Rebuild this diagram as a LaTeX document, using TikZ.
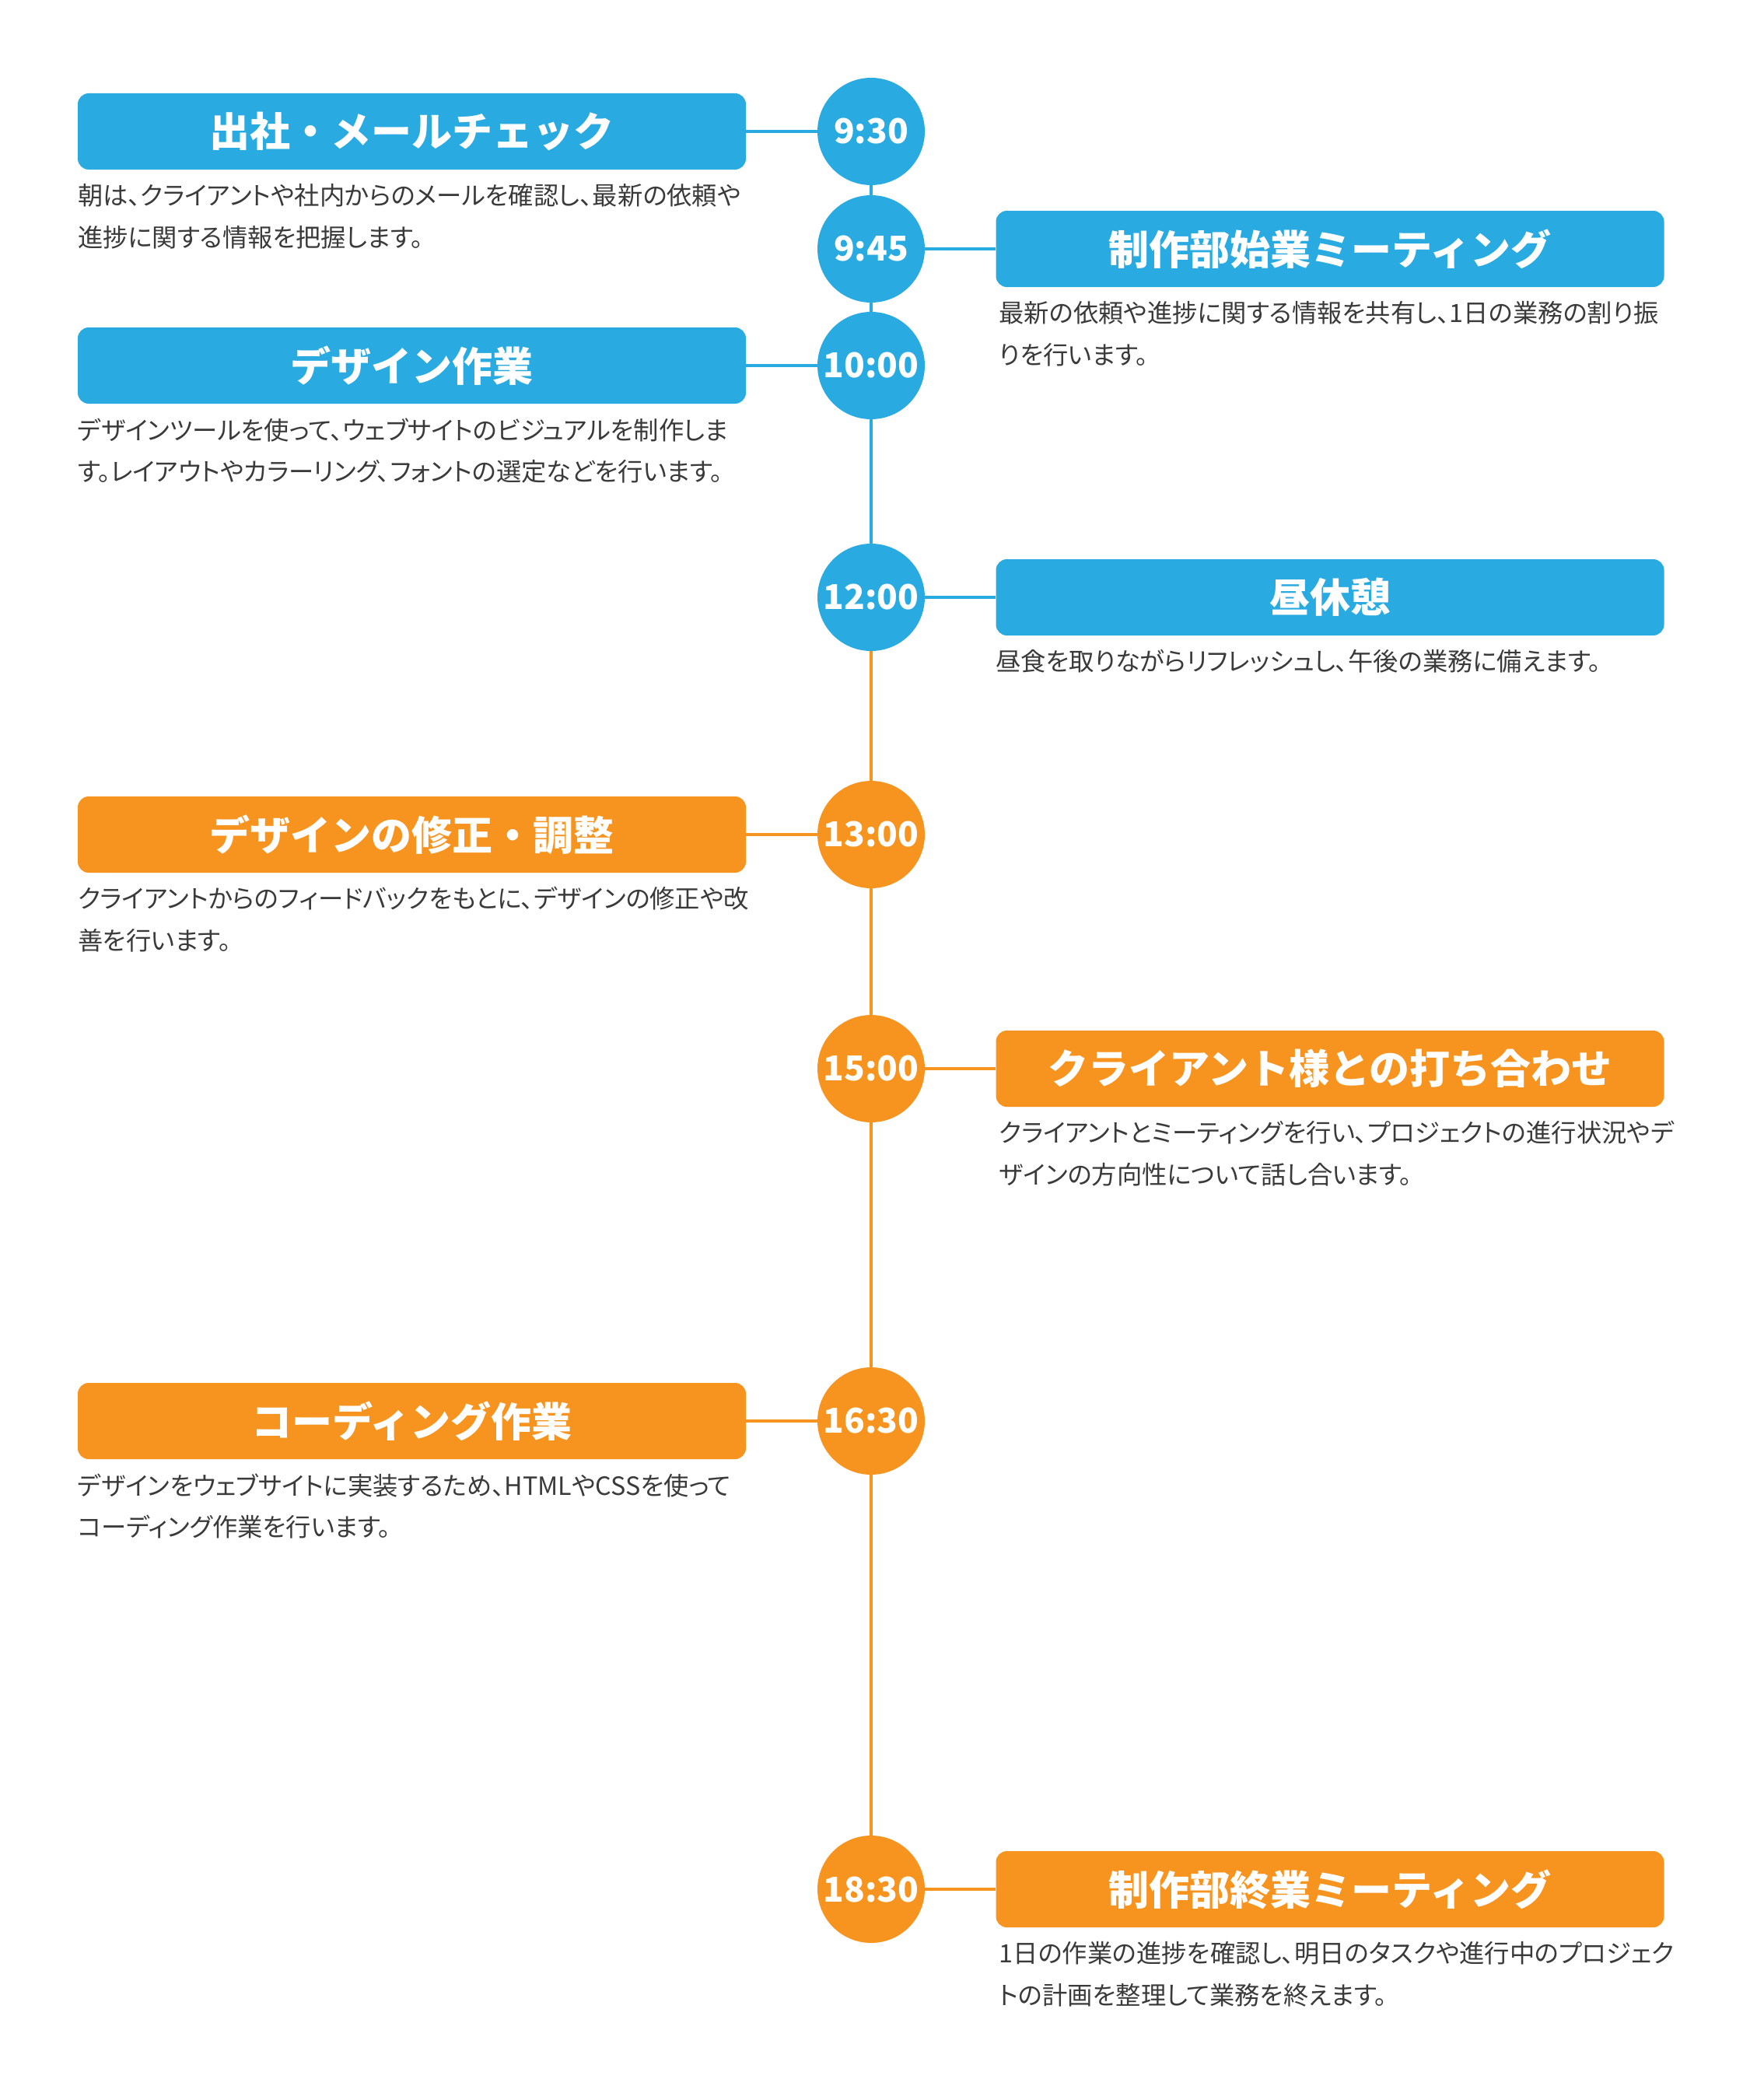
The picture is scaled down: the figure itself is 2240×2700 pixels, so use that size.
\documentclass[tikz,border=0pt]{standalone}
\usepackage{fontspec}
\setmainfont{Noto Sans CJK JP}
\newfontfamily\notefont[RawFeature=+palt]{Noto Sans CJK JP}
\definecolor{skyblue}{HTML}{29AAE1}
\definecolor{sunorange}{HTML}{F7941F}
\definecolor{bodygray}{HTML}{3A3A3A}
\begin{document}
\begin{tikzpicture}[x=1pt,y=-1pt,
    timedot/.style={circle,fill=#1,minimum size=138pt,inner sep=0pt,text=white,font=\fontsize{44}{44}\selectfont\bfseries},
    titlebox/.style={rounded corners=14pt,fill=#1,minimum width=859pt,minimum height=98pt,inner sep=0pt,text=white,font=\fontsize{52}{52}\selectfont\bfseries},
    note/.style={anchor=north west,inner sep=0pt,align=left,text=bodygray,font=\notefont\fontsize{32.3}{53.5}\selectfont},
    link/.style={draw=#1,line width=4.5pt}]
    \useasboundingbox (0,0) rectangle (2240,2700);
    % morning (blue)
    \node[timedot=skyblue] (t0930) at (1120,169) {9:30};
    \node[titlebox=skyblue] (b0930) at (529.5,169) {出社・メールチェック};
    \node[note] (d0930) at ([yshift=-18pt]b0930.south west) {朝は、クライアントや社内からのメールを確認し、最新の依頼や\\進捗に関する情報を把握します。};
    \node[timedot=skyblue] (t0945) at (1120,320) {9:45};
    \node[titlebox=skyblue] (b0945) at (1710,320) {制作部始業ミーティング};
    \node[note] (d0945) at ([xshift=4pt,yshift=-18pt]b0945.south west) {最新の依頼や進捗に関する情報を共有し、1日の業務の割り振\\りを行います。};
    \node[timedot=skyblue] (t1000) at (1120,470) {10:00};
    \node[titlebox=skyblue] (b1000) at (529.5,470) {デザイン作業};
    \node[note] (d1000) at ([yshift=-18pt]b1000.south west) {デザインツールを使って、ウェブサイトのビジュアルを制作しま\\す。レイアウトやカラーリング、フォントの選定などを行います。};
    \node[timedot=skyblue] (t1200) at (1120,768) {12:00};
    \node[titlebox=skyblue] (b1200) at (1710,768) {昼休憩};
    \node[note] (d1200) at ([yshift=-18pt]b1200.south west) {昼食を取りながらリフレッシュし、午後の業務に備えます。};
    % afternoon (orange)
    \node[timedot=sunorange] (t1300) at (1120,1073) {13:00};
    \node[titlebox=sunorange] (b1300) at (529.5,1073) {デザインの修正・調整};
    \node[note] (d1300) at ([yshift=-18pt]b1300.south west) {クライアントからのフィードバックをもとに、デザインの修正や改\\善を行います。};
    \node[timedot=sunorange] (t1500) at (1120,1374) {15:00};
    \node[titlebox=sunorange] (b1500) at (1710,1374) {クライアント様との打ち合わせ};
    \node[note] (d1500) at ([xshift=4pt,yshift=-18pt]b1500.south west) {クライアントとミーティングを行い、プロジェクトの進行状況やデ\\ザインの方向性について話し合います。};
    \node[timedot=sunorange] (t1630) at (1120,1827) {16:30};
    \node[titlebox=sunorange] (b1630) at (529.5,1827) {コーディング作業};
    \node[note] (d1630) at ([yshift=-18pt]b1630.south west) {デザインをウェブサイトに実装するため、HTMLやCSSを使って\\コーディング作業を行います。};
    \node[timedot=sunorange] (t1830) at (1120,2429) {18:30};
    \node[titlebox=sunorange] (b1830) at (1710,2429) {制作部終業ミーティング};
    \node[note] (d1830) at ([xshift=4pt,yshift=-18pt]b1830.south west) {1日の作業の進捗を確認し、明日のタスクや進行中のプロジェク\\トの計画を整理して業務を終えます。};
    % timeline
    \draw[link=skyblue] (t0930) -- (t0945);
    \draw[link=skyblue] (t0945) -- (t1000);
    \draw[link=skyblue] (t1000) -- (t1200);
    \draw[link=sunorange] (t1200) -- (t1300);
    \draw[link=sunorange] (t1300) -- (t1500);
    \draw[link=sunorange] (t1500) -- (t1630);
    \draw[link=sunorange] (t1630) -- (t1830);
    % connectors to boxes
    \draw[link=skyblue] (t0930) -- (b0930);
    \draw[link=skyblue] (t0945) -- (b0945);
    \draw[link=skyblue] (t1000) -- (b1000);
    \draw[link=skyblue] (t1200) -- (b1200);
    \draw[link=sunorange] (t1300) -- (b1300);
    \draw[link=sunorange] (t1500) -- (b1500);
    \draw[link=sunorange] (t1630) -- (b1630);
    \draw[link=sunorange] (t1830) -- (b1830);
\end{tikzpicture}
\end{document}
